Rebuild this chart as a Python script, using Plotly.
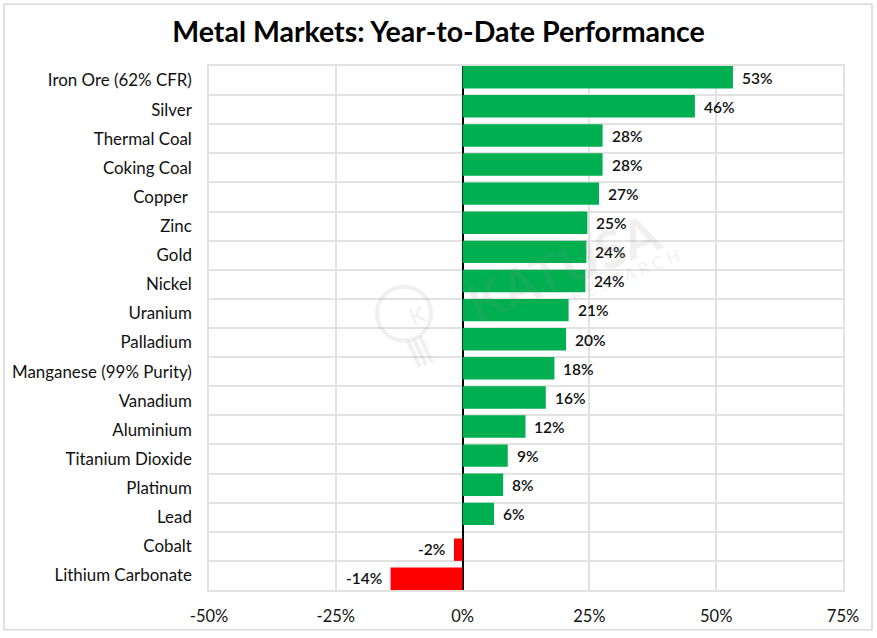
import plotly.graph_objects as go

metals = [
    'Iron Ore (62% CFR)', 'Silver', 'Thermal Coal', 'Coking Coal', 'Copper ',
    'Zinc', 'Gold', 'Nickel', 'Uranium', 'Palladium', 'Manganese (99% Purity)',
    'Vanadium', 'Aluminium', 'Titanium Dioxide', 'Platinum', 'Lead', 'Cobalt',
    'Lithium Carbonate'
]
ytd_pct = [53.3, 45.8, 27.6, 27.6, 26.9, 24.6, 24.4, 24.2, 20.9, 20.4, 18.1,
           16.4, 12.4, 8.9, 8.0, 6.2, -1.7, -14.2]
ytd_labels = ['53%', '46%', '28%', '28%', '27%', '25%', '24%', '24%', '21%',
              '20%', '18%', '16%', '12%', '9%', '8%', '6%', '-2%', '-14%']
x_ticks = [-50, -25, 0, 25, 50, 75]
x_tick_labels = ['-50%', '-25%', '0%', '25%', '50%', '75%']

FONT = 'Lato'
GRID = '#e2e2e2'
MARK = 'rgba(140,140,140,0.13)'
L, R, T, B = 209, 34, 66, 45
W, H = 877, 638
BAR_WIDTH = 0.77


def px(x):
    return (x - L) / (W - L - R)


def py(y):
    return 1 - (y - T) / (H - T - B)


# positive bars sit at the top of their row, negative ones at the bottom
fig = go.Figure(go.Bar(
    x=ytd_pct,
    y=metals,
    orientation='h',
    width=BAR_WIDTH,
    offset=[-0.5 if v >= 0 else 0.5 - BAR_WIDTH for v in ytd_pct],
    marker_color=['#00b050' if v >= 0 else '#ff0000' for v in ytd_pct],
    marker_line_width=0,
    hoverinfo='x+y'
))

for metal, value, label in zip(metals, ytd_pct, ytd_labels):
    fig.add_annotation(
        x=value, y=metal, text=label, showarrow=False,
        xanchor='left' if value >= 0 else 'right',
        xshift=7 if value >= 0 else -7,
        yshift=3 if value >= 0 else -3,
        font=dict(family=FONT, size=15.5, color='#111111', weight=600)
    )

# faint watermark: wordmark and light bulb
fig.add_annotation(
    xref='paper', yref='paper', x=px(563), y=py(268), text='<b>KATUSA</b>',
    showarrow=False, textangle=-22,
    font=dict(family=FONT, size=52, color=MARK)
)
fig.add_annotation(
    xref='paper', yref='paper', x=px(625), y=py(277), text='R E S E A R C H',
    showarrow=False, textangle=-22,
    font=dict(family=FONT, size=17, color=MARK)
)
fig.add_annotation(
    xref='paper', yref='paper', x=px(402), y=py(316), text='K',
    showarrow=False, textangle=-22,
    font=dict(family=FONT, size=24, color=MARK)
)
fig.add_shape(
    type='circle', xref='paper', yref='paper',
    x0=px(377), x1=px(431), y0=py(288), y1=py(342),
    line=dict(color=MARK, width=4)
)
for x0, y0, x1, y1 in [(408, 343, 420, 369), (414, 341, 426, 367), (420, 338, 432, 364)]:
    fig.add_shape(
        type='line', xref='paper', yref='paper',
        x0=px(x0), x1=px(x1), y0=py(y0), y1=py(y1),
        line=dict(color=MARK, width=4)
    )

# outer chart frame
fig.add_shape(
    type='rect', xref='paper', yref='paper',
    x0=px(4), x1=px(872), y0=py(633), y1=py(4),
    line=dict(color='#d9d9d9', width=1.5), layer='below'
)

fig.update_layout(
    width=W,
    height=H,
    margin=dict(l=L, r=R, t=T, b=B),
    paper_bgcolor='white',
    plot_bgcolor='white',
    showlegend=False,
    title=dict(
        text='<b>Metal Markets: Year-to-Date Performance</b>',
        x=0.5, xanchor='center', xref='container', y=0.95, yanchor='middle',
        font=dict(family=FONT, size=28.5, color='black')
    ),
    font=dict(family=FONT, size=16.5, color='#111111'),
    xaxis=dict(
        range=[-50, 75],
        tickvals=x_ticks,
        ticktext=x_tick_labels,
        showgrid=True,
        gridcolor=GRID,
        gridwidth=1.5,
        zeroline=True,
        zerolinecolor='black',
        zerolinewidth=2,
        showline=True,
        linecolor=GRID,
        linewidth=1.5,
        mirror=True,
        ticks='',
        ticklabelstandoff=10
    ),
    yaxis=dict(
        autorange='reversed',
        type='category',
        tickson='boundaries',
        showgrid=True,
        gridcolor=GRID,
        gridwidth=1.5,
        showline=True,
        linecolor=GRID,
        linewidth=1.5,
        mirror=True,
        ticks='',
        ticklabelstandoff=12,
        tickfont_size=16.9
    )
)

fig.write_html(
    "out.html",
    config={'displayModeBar': False},
    post_script="document.body.style.margin = '0';"
)
